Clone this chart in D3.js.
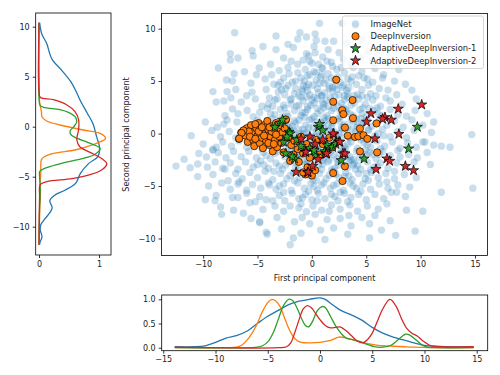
<!DOCTYPE html>
<html>
<head>
<meta charset="utf-8">
<script src="https://cdn.jsdelivr.net/npm/d3@7"></script>
<style>
  body { margin: 0; background: #fff; }
  svg { font-family: "DejaVu Sans", sans-serif; }
</style>
</head>
<body>
<svg id="chart" width="500" height="375"></svg>
<script>
// ---- scatter data (first / second principal component) ----
const imagenet = [
  [0.7,10.5],[2.8,10.5],[4.0,10.3],[-7.1,9.6],[-1.1,9.6],[0.3,9.5],
  [-3.3,9.3],[-1.3,9.0],[0.4,8.9],[-2.2,8.5],[1.2,8.8],[2.0,8.8],[3.2,8.6],[4.6,9.0],[-0.5,9.2],
  [-1.7,8.2],[-3.3,8.0],[-7.5,7.6],[-5.5,7.9],[-0.5,7.6],[0.2,8.3],[1.5,8.0],[3.9,8.1],[2.5,7.7],[5.2,7.8],[-4.5,8.3],[6.0,8.0],
  [-7.5,7.0],[-6.8,7.2],[-5.4,7.4],[-2.6,7.2],[-1.9,6.9],[-0.8,7.0],[0.0,6.7],[1.0,7.3],[1.8,6.8],[2.9,7.1],[3.6,6.6],[4.5,7.2],[5.6,6.8],[-3.8,6.6],[-0.3,7.4],[7.0,6.9],[0.6,6.6],
  [-8.6,6.25],[-4.85,6.25],[-6.2,5.9],[-5.1,5.6],[-7.15,5.7],[-3.0,6.0],[-2.2,6.3],[-1.3,5.8],[-0.6,6.1],[0.2,5.9],[0.9,6.3],[1.5,5.7],[2.3,6.1],[3.0,5.8],[3.8,6.3],[4.6,5.9],[5.8,6.2],[6.6,5.6],[8.0,6.1],[-0.2,5.6],[1.9,6.4],
  [-7.85,5.1],[-7.3,5.0],[-5.6,4.8],[-4.3,5.2],[-3.5,4.7],[-2.6,5.3],[-1.8,4.9],[-1.0,5.3],[-0.3,4.7],[0.4,5.1],[1.1,4.8],[1.8,5.3],[2.6,4.9],[3.3,5.2],[4.1,4.7],[4.8,5.3],[5.6,4.9],[6.5,5.3],[7.6,5.0],[-0.8,4.6],[0.8,5.4],[2.2,4.6],[3.7,5.4],[-2.2,4.6],[5.2,4.6],[8.6,4.7],
  [-9.1,4.0],[-7.8,4.0],[-7.0,4.2],[-5.5,3.95],[-4.2,4.2],[-3.1,3.95],[-2.4,4.3],[-1.6,3.8],[-0.9,4.2],[-0.2,3.7],[0.5,4.3],[1.2,3.9],[1.9,4.4],[2.5,3.7],[3.2,4.1],[3.9,3.6],[4.6,4.2],[5.4,3.8],[6.2,4.3],[7.0,4.14],[9.2,4.14],[-6.0,3.6],[-1.2,3.6],[0.9,3.6],[2.8,4.4],[4.2,3.7],[5.9,3.6],[7.8,3.7],[-0.5,4.45],[1.6,4.3],
  [-8.8,3.0],[-8.1,3.1],[-7.45,3.4],[-6.5,3.0],[-5.2,3.3],[-4.0,2.8],[-3.2,3.3],[-2.6,2.7],[-2.0,3.2],[-1.4,2.6],[-0.8,3.1],[-0.1,2.7],[0.5,3.3],[1.1,2.8],[1.7,3.4],[2.4,2.6],[3.0,3.2],[3.6,2.7],[4.3,3.3],[4.9,2.8],[5.6,3.2],[6.3,2.6],[7.2,3.1],[8.3,2.8],[9.6,3.3],[-1.0,3.45],[0.2,3.45],[2.0,2.9],[3.3,3.45],[5.1,3.45],[-3.6,2.6],[6.8,3.4],[-0.4,2.55],
  [-7.3,2.35],[-5.95,2.2],[-6.8,1.9],[-4.8,2.0],[-4.1,2.4],[-3.4,1.8],[-2.9,2.3],[-2.2,1.6],[-1.6,2.2],[-1.0,1.7],[-0.4,2.3],[0.2,1.6],[0.8,2.2],[1.4,1.7],[2.0,2.4],[2.6,1.6],[3.2,2.1],[3.8,1.7],[4.4,2.3],[5.0,1.6],[5.7,2.2],[6.4,1.7],[7.2,2.3],[7.9,1.8],[8.7,1.66],[9.5,2.2],[10.6,1.9],[-8.0,1.7],[-0.7,1.55],[1.1,2.45],[2.9,2.45],[4.7,2.45],[-2.5,2.45],[-5.4,1.6],[6.0,2.45],[0.5,1.9],
  [-9.8,1.1],[-8.7,0.6],[-6.9,1.1],[-7.8,1.3],[-5.8,0.7],[-5.0,1.3],[-4.3,0.8],[-3.6,1.4],[-3.0,0.6],[-2.4,1.2],[-1.8,0.7],[-1.2,1.3],[-0.6,0.8],[0.0,1.4],[0.6,0.7],[1.2,1.2],[1.8,0.6],[2.4,1.4],[3.0,0.9],[3.6,1.3],[4.2,0.6],[4.8,1.1],[5.5,0.7],[6.2,1.3],[6.9,0.8],[7.6,1.2],[8.4,0.6],[9.2,1.3],[10.2,0.8],[11.2,1.1],[-8.1,0.9],[-0.3,0.55],[1.5,1.45],[2.7,0.55],[4.5,1.45],[-2.1,0.55],[5.9,1.0],[3.3,0.6],[0.9,1.0],[-1.5,1.0],
  [-11.1,-0.2],[-9.2,0.3],[-8.4,-0.3],[-7.6,0.2],[-7.0,-0.4],[-6.2,0.4],[-5.5,-0.2],[-4.7,0.3],[-3.9,-0.3],[-3.2,0.2],[-2.6,-0.4],[-2.0,0.3],[-1.4,-0.2],[-0.8,0.4],[-0.2,-0.3],[0.4,0.2],[1.0,-0.4],[1.6,0.3],[2.2,-0.2],[2.8,0.4],[3.4,-0.3],[4.0,0.2],[4.6,-0.4],[5.2,0.3],[5.8,-0.2],[6.5,0.4],[7.2,-0.3],[7.9,0.2],[8.7,-0.4],[9.4,0.3],[10.2,-0.8],[11.0,0.1],[14.7,-0.1],[-1.1,0.0],[0.7,-0.1],[2.5,0.0],[4.3,-0.1],[6.1,0.0],[-4.4,0.0],[3.1,0.45],[-0.5,0.1],[1.3,0.0],
  [-10.0,-1.0],[-9.1,-1.5],[-8.8,-1.3],[-8.2,-0.8],[-7.4,-1.2],[-6.7,-0.7],[-6.0,-1.3],[-5.3,-0.8],[-4.6,-1.4],[-3.9,-0.9],[-3.2,-1.3],[-2.5,-0.7],[-1.8,-1.2],[-1.2,-0.7],[-0.6,-1.3],[0.0,-0.8],[0.6,-1.4],[1.2,-0.9],[1.8,-1.3],[2.4,-0.7],[3.0,-1.2],[3.6,-0.8],[4.2,-1.4],[4.8,-0.9],[5.4,-1.3],[6.0,-0.7],[6.7,-1.2],[7.4,-0.8],[8.1,-1.4],[8.8,-0.9],[9.6,-1.3],[10.4,-0.8],[11.2,-1.1],[11.9,-1.2],[12.7,-1.3],[-0.3,-1.05],[1.5,-1.1],[3.3,-1.0],[5.1,-1.1],[-2.1,-1.0],[0.9,-0.6],[2.7,-1.45],[4.5,-0.6],[6.3,-1.45],[-1.5,-1.45],
  [-11.75,-2.45],[-10.4,-1.9],[-9.7,-2.24],[-9.1,-1.6],[-8.6,-1.82],[-7.9,-2.3],[-7.2,-1.7],[-6.5,-2.2],[-5.8,-1.7],[-5.1,-2.3],[-4.5,-1.8],[-3.8,-2.4],[-3.1,-1.7],[-2.5,-2.2],[-1.9,-1.6],[-1.3,-2.3],[-0.7,-1.7],[-0.1,-2.2],[0.5,-1.6],[1.1,-2.3],[1.7,-1.8],[2.3,-2.4],[2.9,-1.6],[3.5,-2.2],[4.1,-1.7],[4.7,-2.3],[5.3,-1.8],[5.9,-2.4],[6.5,-1.7],[7.2,-2.1],[7.9,-1.6],[8.1,-2.24],[8.9,-2.0],[9.7,-2.3],[10.6,-1.8],[-0.4,-2.45],[1.4,-2.0],[3.2,-1.95],[5.0,-2.0],[-2.2,-2.0],[0.2,-1.95],[2.0,-2.05],[3.8,-2.45],[6.2,-2.0],[-4.2,-2.1],[-1.0,-2.0],
  [-12.5,-3.1],[-11.2,-3.25],[-10.5,-2.9],[-9.6,-3.2],[-8.9,-2.7],[-8.2,-3.3],[-7.5,-2.8],[-6.8,-3.4],[-6.1,-2.7],[-5.4,-3.2],[-4.7,-2.6],[-4.0,-3.3],[-3.3,-2.8],[-2.7,-3.4],[-2.1,-2.7],[-1.5,-3.2],[-0.9,-2.6],[-0.3,-3.3],[0.3,-2.8],[0.9,-3.4],[1.5,-2.7],[2.1,-3.3],[2.7,-2.6],[3.3,-3.2],[3.9,-2.8],[4.5,-3.4],[5.1,-2.7],[5.7,-3.2],[6.3,-2.8],[7.0,-3.3],[7.8,-2.8],[8.6,-3.2],[9.4,-2.7],[10.9,-2.94],[-1.2,-3.45],[0.6,-3.05],[2.4,-3.0],[4.2,-3.05],[-3.0,-3.1],[-0.6,-2.95],[1.8,-3.45],[3.6,-2.55],[5.4,-3.45],[-5.0,-2.95],
  [-10.5,-4.1],[-9.1,-3.9],[-8.0,-3.4],[-7.7,-4.5],[-7.0,-3.8],[-6.4,-4.3],[-5.7,-3.7],[-5.0,-4.2],[-4.3,-3.6],[-3.6,-4.4],[-2.9,-3.8],[-2.3,-4.3],[-1.7,-3.7],[-1.1,-4.2],[-0.5,-3.6],[0.1,-4.4],[0.7,-3.8],[1.3,-4.3],[1.9,-3.6],[2.5,-4.2],[3.1,-3.7],[3.7,-4.4],[4.3,-3.8],[4.9,-4.3],[5.5,-3.7],[6.1,-4.2],[6.8,-3.8],[7.6,-4.3],[8.5,-3.9],[9.6,-4.2],[-6.7,-4.6],[-0.2,-4.05],[1.6,-3.95],[3.4,-4.05],[-2.0,-4.0],[0.4,-4.45],[2.2,-3.85],[5.2,-4.45],
  [-9.5,-5.0],[-8.3,-4.7],[-7.5,-5.3],[-6.8,-4.8],[-6.0,-5.4],[-5.46,-4.85],[-4.7,-5.2],[-4.0,-4.7],[-3.3,-5.3],[-2.6,-4.8],[-1.9,-5.4],[-1.3,-4.7],[-0.7,-5.2],[-0.1,-4.8],[0.5,-5.4],[1.1,-4.7],[1.7,-5.2],[2.3,-4.8],[2.9,-5.4],[3.5,-4.7],[4.1,-5.2],[4.7,-4.8],[5.4,-5.3],[6.2,-4.8],[7.0,-5.2],[7.9,-4.9],[9.0,-5.1],[14.8,-5.2],[-3.0,-5.0],[0.2,-5.05],[2.0,-4.95],[3.8,-5.0],
  [-9.8,-6.3],[-8.9,-6.4],[-8.8,-5.9],[-7.3,-6.1],[-6.8,-6.1],[-6.0,-5.7],[-4.8,-6.0],[-4.2,-6.3],[-3.0,-5.9],[-2.5,-6.4],[-1.8,-5.7],[-1.2,-6.2],[-0.6,-5.8],[0.0,-6.3],[0.6,-5.7],[1.2,-6.2],[1.8,-5.8],[2.4,-6.4],[3.0,-5.7],[3.6,-6.1],[4.3,-5.8],[5.0,-6.3],[5.8,-5.8],[6.6,-6.2],[7.8,-5.6],[7.3,-5.6],[8.6,-6.0],[11.9,-5.6],[-0.86,-6.12],[2.1,-6.0],
  [-8.4,-7.0],[-7.2,-7.3],[-5.7,-6.6],[-4.5,-7.24],[-3.4,-6.9],[-2.0,-6.9],[-2.6,-7.4],[0.1,-6.9],[0.9,-7.3],[-1.2,-7.1],[1.8,-6.8],[2.6,-7.2],[3.5,-6.8],[4.2,-7.4],[5.1,-6.9],[6.1,-7.2],[6.9,-6.7],[8.7,-7.3],[10.2,-7.4],[-0.5,-7.45],
  [-8.3,-7.7],[-6.3,-7.6],[-4.8,-8.4],[-1.6,-8.4],[0.3,-7.7],[1.4,-8.2],[2.6,-8.1],[3.4,-7.8],[4.6,-8.0],[5.8,-7.8],[7.2,-8.3],[-3.2,-8.0],[-0.9,-8.0],[-5.6,-8.1],
  [-4.8,-8.5],[-0.2,-8.6],[-1.0,-9.5],[5.3,-8.6],[2.0,-9.0],[3.6,-8.8],[-4.1,-9.6],[-2.8,-9.1],[0.8,-9.2],[6.4,-9.2],[7.7,-9.7],[9.5,-9.3],
  [-1.7,-9.95],[-2.0,-10.6],[-4.2,-9.4],[3.3,-9.6],[5.3,-9.95],[1.2,-10.1],
  [-1.5,5.0],[-0.9,4.0],[-0.4,5.5],[0.1,4.6],[0.6,3.9],[1.3,5.1],[1.9,4.0],[2.4,5.4],[-1.9,3.3],[-1.2,2.7],[-0.5,3.5],[0.2,2.9],[0.9,3.6],[1.5,2.6],[2.1,3.5],[2.7,2.9],[3.3,3.8],[-2.3,1.9],[-1.6,1.2],[-0.9,2.0],[-0.2,1.3],[0.5,2.4],[1.1,1.5],[1.8,2.2],[2.5,1.2],[3.1,2.3],[3.8,1.1],[-1.2,0.4],[-0.6,-0.6],[0.1,0.6],[0.8,-0.3],[1.5,0.8],[2.2,-0.5],[2.9,0.7],[3.5,-0.4],[4.2,0.9],[0.3,-1.6],[1.0,-2.6],[1.7,-1.4],[2.4,-2.7],[3.1,-1.5],[3.8,-3.0],[-0.4,-2.9],[0.4,5.8],[-0.2,6.9],[1.0,6.2],[1.6,4.5],[2.9,4.6],[3.6,5.0],[-2.8,4.2],[-3.4,3.2],[-2.2,0.9],[4.6,1.9],[5.2,0.4],[4.9,-1.6],[0.0,3.2],[-1.8,-0.4],[-0.9,-1.1],[2.0,0.2],[3.0,-2.2],
  [-3.7,5.6],[-2.9,4.9],[-2.1,5.7],[-1.3,6.6],[-0.7,5.0],[0.3,7.7],[0.9,5.6],[1.4,6.9],[2.1,5.1],[2.7,6.3],[3.4,4.4],[4.3,5.5],[5.1,5.2],[-3.9,3.4],[-3.1,4.6],[-2.5,3.7],[-1.5,4.3],[-0.4,4.1],[0.7,4.8],[1.3,3.2],[2.3,4.2],[3.0,3.6],[3.9,2.9],[4.6,3.6],[5.3,2.4],[-4.6,2.6],[-3.8,1.9],[-2.7,1.6],[-1.9,2.8],[-0.6,2.0],[0.4,1.1],[1.0,2.9],[1.9,1.0],[2.6,2.2],[3.5,1.9],[4.1,1.4],[5.1,1.3],[6.1,1.9],[-2.4,-0.1],[-1.7,0.3],[-0.7,0.0],[0.2,-0.2],[1.1,0.5],[1.9,-0.8],[2.7,-0.3],[3.7,0.4],[4.6,0.8],[5.6,-0.6],[6.6,-0.2],[-3.4,-1.9],[-2.3,-1.4],[-1.4,-1.8],[-0.5,-1.5],[0.7,-1.1],[1.6,-2.5],[2.6,-1.9],[3.4,-2.6],[4.4,-2.3],[5.6,-2.0],[-4.4,-3.0],[-3.5,-3.6],[-2.4,-3.0],[-1.4,-2.8],[-0.1,-3.7],[1.0,-2.9],[2.0,-3.6],[3.0,-4.1],[4.0,-3.4],[5.0,-3.8],[6.0,-3.1],[-3.9,-4.9],[-2.6,-5.6],[-1.6,-4.5],[-0.3,-5.5],[0.9,-4.9],[2.6,-5.6],[3.3,-6.5],[4.5,-5.5],[-1.0,-6.7],[0.5,-6.4],[1.6,-7.4],[-3.6,-6.4],[-5.2,-6.5],[6.9,-4.6],[7.6,-3.6]
];

const deepInversion = [
  [-6.5,0.1],[-6.7,-0.5],[-6.0,0.5],[-6.1,-0.2],[-5.9,-0.8],[-5.6,0.8],[-5.5,0.1],[-5.4,-0.6],[-5.3,-1.2],[-5.1,0.5],
  [-5.0,-0.2],[-4.9,1.0],[-4.8,-0.9],[-4.7,0.3],[-4.6,-0.4],[-4.5,-1.4],[-4.4,0.8],[-4.3,0.0],[-4.2,-0.7],[-4.1,1.2],
  [-4.0,0.4],[-3.9,-1.1],[-3.8,-0.3],[-3.7,0.7],[-3.6,-1.7],[-3.5,0.1],[-3.4,-0.6],[-3.3,1.0],[-3.2,-1.3],[-3.1,0.3],
  [-3.0,-0.3],[-2.9,0.8],[-2.8,-0.9],[-2.7,0.1],[-2.6,-1.8],[-2.5,0.5],[-2.4,1.3],[-5.8,0.2],[-5.2,0.9],[-4.9,0.2],
  [-4.4,-0.2],[-4.0,-0.9],[-3.7,0.2],[-3.3,-0.1],[-5.7,-0.3],[-6.3,0.3],[-4.6,0.6],[-3.9,0.6],[-5.2,-0.5],[-3.5,-1.0],
  [-2.2,-0.4],[-1.9,-1.1],[-1.6,-0.7],[-1.3,-1.5],[-1.0,-0.3],[-0.8,-1.9],[-0.5,-1.0],[-0.2,-2.3],[0.1,-1.4],[0.4,-0.6],
  [0.7,-2.0],[1.0,-1.0],[1.3,-1.7],[1.6,-0.4],[1.9,-1.3],[-1.7,-2.0],[-2.0,-2.6],[-1.2,-2.7],[-0.6,-3.9],[0.0,-4.0],
  [-0.4,-3.2],[0.3,-3.5],[-0.8,-3.7],
  [2.24,5.13],[1.96,3.03],[3.74,3.19],[2.79,2.23],[1.96,1.27],[2.9,1.85],[3.78,1.47],[4.42,0.48],[3.96,-0.32],[4.27,-0.26],
  [4.75,-0.16],[3.04,0.57],[5.95,0.96],[6.0,-1.79],[4.42,-1.7],[3.04,-3.13],[1.96,-3.77],[2.82,-4.53],[-6.47,0.06],[-6.69,-0.48],
  [-2.39,1.34],[3.3,-0.2],[2.3,-0.8],[5.1,-0.5]
];

const adi1 = [
  [-2.9,1.0],[-2.7,1.3],[-2.1,0.15],[-2.0,0.0],[-2.6,-0.8],[-2.4,-1.9],[-1.6,-2.4],[-1.8,-2.2],[0.6,0.6],[0.7,0.9],
  [-0.2,-1.4],[1.4,-1.1],[1.9,-1.3],[0.4,-2.1],[2.7,-2.55],[4.8,-2.4],[8.9,-1.44],[9.7,0.63],[-3.4,0.6],[-1.4,-0.6],
  [0.2,-1.6],[1.0,0.3],[-2.3,-0.3],[1.2,-1.7],[-1.0,-1.2],[2.2,-1.0]
];

const adi2 = [
  [10.1,2.75],[7.94,2.35],[5.43,1.91],[6.72,1.55],[7.3,1.3],[5.03,1.11],[8.0,-0.05],[-0.18,-0.3],[2.02,-0.07],[2.5,-0.8],
  [-0.6,-1.76],[1.3,-1.95],[2.85,-1.91],[6.9,-2.39],[7.15,-2.62],[0.58,-2.45],[0.06,-3.1],[-1.45,-3.67],[-0.4,-3.7],[5.9,-3.4],
  [8.6,-3.1],[9.35,-3.51],[1.35,-1.91],[3.04,-1.91],[2.58,-0.8],[1.96,0.0],[5.8,-0.48],[-0.34,-3.67],[-0.55,-1.76],[0.3,-1.0],
  [6.5,1.4],[-1.0,-0.5],[1.0,-0.6]
];

// ---- density curves along the first component (bottom panel): [x, density] ----
const kdeXImageNet = [[-13.9,0.02],[-12,0.02],[-11,0.04],[-10,0.11],[-9,0.2],[-8,0.25],[-7,0.34],[-6,0.5],[-5,0.65],[-4,0.77],[-3,0.89],[-2,0.96],[-1,1.0],[0,1.03],[0.5,1.0],[1,0.92],[2,0.77],[3,0.68],[4,0.57],[5,0.42],[6,0.3],[7,0.22],[8,0.16],[9,0.1],[10,0.05],[11,0.03],[12,0.02],[14.7,0.02]];
const kdeXDeep = [[-13.9,0],[-9,0],[-8,0.01],[-7.5,0.05],[-7,0.15],[-6.5,0.3],[-6,0.5],[-5.5,0.75],[-5,0.93],[-4.6,1.0],[-4.2,0.96],[-3.8,0.84],[-3.4,0.62],[-3,0.4],[-2.6,0.24],[-2.2,0.15],[-1.8,0.11],[-1,0.1],[0,0.11],[1,0.15],[1.8,0.22],[2.5,0.2],[3,0.17],[4,0.11],[5,0.07],[6,0.04],[7,0.03],[8,0.02],[9,0.01],[10,0.005],[11,0],[14.7,0]];
const kdeXAdi1 = [[-13.9,0],[-6.5,0],[-6,0.01],[-5.5,0.04],[-5,0.12],[-4.5,0.3],[-4,0.58],[-3.5,0.87],[-3,1.0],[-2.6,0.97],[-2.2,0.82],[-1.8,0.62],[-1.4,0.46],[-1.1,0.43],[-0.7,0.55],[-0.3,0.75],[0.2,0.85],[0.5,0.83],[1,0.65],[1.5,0.45],[2,0.3],[2.5,0.2],[3,0.17],[3.8,0.13],[4.5,0.07],[5.2,0.02],[6,0.01],[6.8,0.05],[7.5,0.17],[8.2,0.28],[8.6,0.26],[9.2,0.16],[9.8,0.05],[10.3,0.01],[11,0],[14.7,0]];
const kdeXAdi2 = [[-13.9,0.01],[-4,0.0],[-3.2,0.02],[-2.8,0.1],[-2.4,0.32],[-2,0.58],[-1.6,0.8],[-1.2,0.87],[-0.8,0.82],[-0.4,0.7],[0,0.58],[0.5,0.46],[1,0.41],[1.5,0.42],[1.9,0.43],[2.5,0.35],[3,0.25],[3.5,0.15],[4.1,0.1],[4.6,0.18],[5,0.3],[5.5,0.55],[6,0.8],[6.7,1.0],[7.3,0.85],[7.8,0.6],[8.3,0.4],[8.8,0.3],[9.3,0.24],[9.8,0.15],[10.5,0.05],[11.5,0.02],[14.7,0.02]];

// ---- density curves along the second component (left panel): [y, density] ----
const kdeYImageNet = [[10.4,0.01],[9.3,0.045],[8.3,0.13],[7.5,0.17],[6.7,0.22],[5.7,0.37],[4.5,0.53],[3.5,0.62],[2.6,0.69],[1.3,0.81],[0.3,0.9],[-1.0,0.96],[-2.1,1.01],[-3.0,0.98],[-3.67,0.83],[-4.67,0.69],[-5.67,0.61],[-6.35,0.43],[-6.9,0.25],[-7.4,0.18],[-8.1,0.22],[-8.6,0.18],[-9.2,0.1],[-9.8,0.03],[-10.3,0.02],[-11.0,0.05],[-11.5,0.02],[-11.8,0.01]];
const kdeYDeep = [[10.4,0],[6,0],[4,0.005],[2.5,0.01],[1.5,0.04],[1.0,0.05],[0.6,0.12],[0.17,0.35],[-0.33,0.74],[-0.67,1.02],[-1.17,1.11],[-1.67,0.96],[-2.0,0.8],[-2.33,0.6],[-2.67,0.24],[-3.0,0.09],[-3.3,0.04],[-3.7,0.03],[-4.5,0.03],[-5.5,0.02],[-7,0.02],[-9,0.01],[-11.8,0]];
const kdeYAdi1 = [[10.4,0],[3,0],[2.1,0.02],[1.9,0.1],[1.7,0.35],[1.4,0.5],[1.0,0.6],[0.5,0.63],[0.0,0.58],[-0.4,0.52],[-0.8,0.53],[-1.2,0.65],[-1.6,0.82],[-2.2,1.02],[-2.8,0.92],[-3.2,0.72],[-3.6,0.42],[-4.0,0.18],[-4.3,0.05],[-4.5,0.01],[-5,0.01],[-6,0.02],[-7,0.02],[-8,0.01],[-11.8,0]];
const kdeYAdi2 = [[10.4,0],[3.5,0],[2.95,0.02],[2.7,0.24],[2.2,0.46],[1.5,0.6],[0.7,0.66],[-0.3,0.66],[-1.3,0.63],[-2.0,0.68],[-2.7,0.9],[-3.2,1.05],[-3.7,1.13],[-4.3,1.05],[-4.8,0.85],[-5.2,0.55],[-5.5,0.13],[-5.8,0.02],[-7,0.01],[-11.8,0]];

const seriesNames = ["ImageNet", "DeepInversion", "AdaptiveDeepInversion-1", "AdaptiveDeepInversion-2"];
const colors = ["#1f77b4", "#ff7f0e", "#2ca02c", "#d62728"];

const mainXTicks = [-10, -5, 0, 5, 10, 15];
const mainYTicks = [-10, -5, 0, 5, 10];
const leftXTicks = [0, 1];
const bottomXTicks = [-15, -10, -5, 0, 5, 10, 15];
const bottomYTicks = [0, 0.5, 1];

// ---- layout ----
const FONT = 8;
const svg = d3.select("#chart");

const xMain = d3.scaleLinear().domain([-13.83, 16.15]).range([161.5, 487.5]);
const yMain = d3.scaleLinear().domain([-11.62, 11.44]).range([255.5, 13.5]);

const xLeft = d3.scaleLinear().domain([-0.055, 1.2]).range([35.7, 111]);
const yLeft = d3.scaleLinear().domain([-12.83, 11.37]).range([255, 13]);

const xBot = d3.scaleLinear().domain([-15.15, 16.05]).range([161.7, 487.7]);
const yBot = d3.scaleLinear().domain([-0.062, 1.089]).range([350.7, 295]);

function styleAxis(g) {
  g.select(".domain").remove();
  g.selectAll(".tick line").attr("stroke", "#000").attr("stroke-width", 0.8);
  g.selectAll(".tick text").attr("fill", "#222").style("font-size", FONT + "px")
    .style("font-family", "'DejaVu Sans', sans-serif");
}

function drawFrame(x, y) {
  svg.append("rect")
    .attr("x", x.range()[0]).attr("y", y.range()[1])
    .attr("width", x.range()[1] - x.range()[0])
    .attr("height", y.range()[0] - y.range()[1])
    .attr("fill", "none").attr("stroke", "#000").attr("stroke-width", 0.8);
}

function clipFor(id, x, y) {
  svg.append("clipPath").attr("id", id).append("rect")
    .attr("x", x.range()[0]).attr("y", y.range()[1])
    .attr("width", x.range()[1] - x.range()[0])
    .attr("height", y.range()[0] - y.range()[1]);
}

const intFmt = d3.format("d");

// ---- main scatter ----
clipFor("clipMain", xMain, yMain);
let mainG = svg.append("g").attr("clip-path", "url(#clipMain)");

mainG.append("g").selectAll("circle")
  .data(imagenet).enter().append("circle")
  .attr("cx", d => xMain(d[0])).attr("cy", d => yMain(d[1]))
  .attr("r", 3.7).attr("fill", colors[0]).attr("fill-opacity", 0.24);

mainG.append("g").selectAll("circle")
  .data(deepInversion).enter().append("circle")
  .attr("cx", d => xMain(d[0])).attr("cy", d => yMain(d[1]))
  .attr("r", 3.6).attr("fill", colors[1])
  .attr("stroke", "#000").attr("stroke-width", 0.7);

let star = d3.symbol().type(d3.symbolStar).size(32);

[adi1, adi2].forEach((pts, i) => {
  mainG.append("g").selectAll("path")
    .data(pts).enter().append("path")
    .attr("d", star)
    .attr("transform", d => "translate(" + xMain(d[0]) + "," + yMain(d[1]) + ")")
    .attr("fill", colors[i + 2])
    .attr("stroke", "#000").attr("stroke-width", 0.7);
});

svg.append("g").attr("transform", "translate(0," + yMain.range()[0] + ")")
  .call(d3.axisBottom(xMain).tickValues(mainXTicks).tickFormat(intFmt).tickSize(3).tickPadding(3))
  .call(styleAxis);
svg.append("g").attr("transform", "translate(" + xMain.range()[0] + ",0)")
  .call(d3.axisLeft(yMain).tickValues(mainYTicks).tickFormat(intFmt).tickSize(3).tickPadding(3))
  .call(styleAxis);
drawFrame(xMain, yMain);

svg.append("text")
  .attr("x", (xMain.range()[0] + xMain.range()[1]) / 2).attr("y", 281)
  .attr("text-anchor", "middle").style("font-size", FONT + "px").attr("fill", "#222")
  .text("First principal component");
svg.append("text")
  .attr("transform", "translate(129," + ((yMain.range()[0] + yMain.range()[1]) / 2) + ") rotate(-90)")
  .attr("text-anchor", "middle").style("font-size", FONT + "px").attr("fill", "#222")
  .text("Second principal component");

// legend
let legend = svg.append("g").attr("transform", "translate(342.5,16)");
legend.append("rect").attr("width", 141).attr("height", 52.5).attr("rx", 2)
  .attr("fill", "#fff").attr("fill-opacity", 0.8)
  .attr("stroke", "#ccc").attr("stroke-width", 0.8);
seriesNames.forEach((name, i) => {
  let yy = 8 + i * 12.2;
  let row = legend.append("g").attr("transform", "translate(13," + yy + ")");
  if (i === 0) {
    row.append("circle").attr("r", 3.7).attr("fill", colors[0]).attr("fill-opacity", 0.24);
  } else if (i === 1) {
    row.append("circle").attr("r", 3.6).attr("fill", colors[1]).attr("stroke", "#000").attr("stroke-width", 0.7);
  } else {
    row.append("path").attr("d", star).attr("fill", colors[i]).attr("stroke", "#000").attr("stroke-width", 0.7);
  }
  row.append("text").attr("x", 15).attr("dy", "0.35em")
    .style("font-size", "8.4px").attr("fill", "#222").text(name);
});

// ---- left density panel (second component) ----
clipFor("clipLeft", xLeft, yLeft);
let leftLine = d3.line().x(d => xLeft(d[1])).y(d => yLeft(d[0])).curve(d3.curveCatmullRom.alpha(0.5));
[kdeYImageNet, kdeYDeep, kdeYAdi1, kdeYAdi2].forEach((s, i) => {
  svg.append("path").datum(s).attr("clip-path", "url(#clipLeft)")
    .attr("d", leftLine).attr("fill", "none")
    .attr("stroke", colors[i]).attr("stroke-width", 1.3);
});
svg.append("g").attr("transform", "translate(0," + yLeft.range()[0] + ")")
  .call(d3.axisBottom(xLeft).tickValues(leftXTicks).tickFormat(intFmt).tickSize(3).tickPadding(3))
  .call(styleAxis);
svg.append("g").attr("transform", "translate(" + xLeft.range()[0] + ",0)")
  .call(d3.axisLeft(yLeft).tickValues(mainYTicks).tickFormat(intFmt).tickSize(3).tickPadding(3))
  .call(styleAxis);
drawFrame(xLeft, yLeft);

// ---- bottom density panel (first component) ----
clipFor("clipBot", xBot, yBot);
let botLine = d3.line().x(d => xBot(d[0])).y(d => yBot(d[1])).curve(d3.curveCatmullRom.alpha(0.5));
[kdeXImageNet, kdeXDeep, kdeXAdi1, kdeXAdi2].forEach((s, i) => {
  svg.append("path").datum(s).attr("clip-path", "url(#clipBot)")
    .attr("d", botLine).attr("fill", "none")
    .attr("stroke", colors[i]).attr("stroke-width", 1.3);
});
svg.append("g").attr("transform", "translate(0," + yBot.range()[0] + ")")
  .call(d3.axisBottom(xBot).tickValues(bottomXTicks).tickFormat(intFmt).tickSize(3).tickPadding(3))
  .call(styleAxis);
svg.append("g").attr("transform", "translate(" + xBot.range()[0] + ",0)")
  .call(d3.axisLeft(yBot).tickValues(bottomYTicks).tickFormat(d3.format(".1f")).tickSize(3).tickPadding(3))
  .call(styleAxis);
drawFrame(xBot, yBot);
</script>
</body>
</html>
